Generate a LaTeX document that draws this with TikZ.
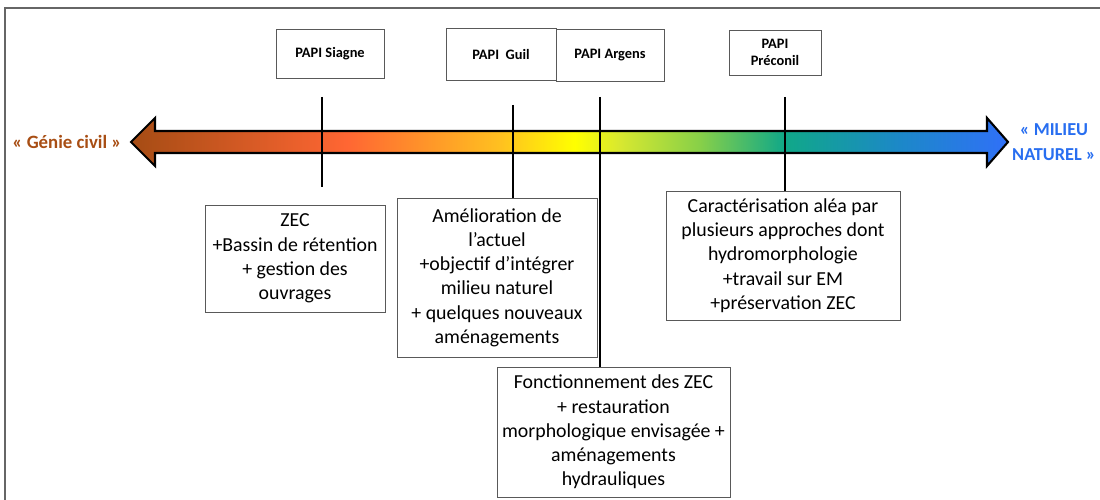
\documentclass[tikz,border=0pt]{standalone}
\usepackage{fontspec}
\setmainfont{Carlito}
\definecolor{civilbrown}{RGB}{168,78,20}
\definecolor{milieublue}{RGB}{40,110,240}
\definecolor{axbrown}{RGB}{165,76,20}
\definecolor{axorange}{RGB}{255,102,51}
\definecolor{axamber}{RGB}{255,192,32}
\definecolor{axyellow}{RGB}{255,255,0}
\definecolor{axlime}{RGB}{216,232,48}
\definecolor{axgreen}{RGB}{136,208,72}
\definecolor{axteal}{RGB}{16,168,136}
\definecolor{axsky}{RGB}{28,136,200}
\definecolor{axblue}{RGB}{48,112,248}
\pgfdeclarehorizontalshading{axisshade}{100bp}{color(0bp)=(axbrown); color(25bp)=(axbrown); color(37.3bp)=(axorange); color(46bp)=(axamber); color(50.3bp)=(axyellow); color(52.85bp)=(axlime); color(57.4bp)=(axgreen); color(62.25bp)=(axteal); color(68.8bp)=(axsky); color(75bp)=(axblue); color(100bp)=(axblue)}

\begin{document}
\begin{tikzpicture}[x=0.02cm,y=-0.02cm,
	papi/.style={draw=black!65, line width=0.5pt, fill=white, inner sep=0pt, align=center, font=\fontsize{8.2}{10}\selectfont\bfseries},
	note/.style={draw=black!65, line width=0.5pt, fill=white, inner sep=0pt, align=center, font=\fontsize{11.3}{13.8}\selectfont},
	papiline/.style={line width=1.7pt}]
	\useasboundingbox (0,0) rectangle (1100,500);
	\draw[black!60, line width=0.6pt] (5,500) -- (5,8) -- (1100,8);
	% axe genie civil -> milieu naturel
	\path[shade, shading=axisshade, draw=black, line width=1.2pt, line join=miter]
		(131,142) -- (155,118) -- (155,131) -- (987,131) -- (987,118) -- (1008,142)
		-- (987,166) -- (987,153) -- (155,153) -- (155,166) -- cycle;
	\node[font=\fontsize{10.7}{13}\selectfont\bfseries, text=civilbrown] (genie) at (67,142) {« Génie civil »};
	\node[font=\fontsize{10.4}{14}\selectfont\bfseries, text=milieublue, align=center, inner sep=0pt] (milieu) at (1054,142) {« MILIEU\\NATUREL »};
	% PAPI
	\node[papi, minimum width=2.16cm, minimum height=0.98cm] (siagne) at (330,53.5) {PAPI Siagne};
	\node[papi, minimum width=2.2cm, minimum height=1.04cm] (guil) at (501,54) {PAPI\ \ Guil};
	\node[papi, minimum width=2.16cm, minimum height=1.04cm] (argens) at (610,55) {PAPI Argens};
	\node[papi, minimum width=1.84cm, minimum height=0.9cm] (preconil) at (775,52.5) {PAPI\\Préconil};
	% actions
	\node[note, minimum width=3.6cm, minimum height=2.14cm] (zec) at (295,258.5) {ZEC\\+Bassin de rétention\\+ gestion des\\ouvrages};
	\node[note, minimum width=4cm, minimum height=3.18cm] (amelio) at (497,277.5) {Amélioration de\\l’actuel\\+objectif d’intégrer\\milieu naturel\\+ quelques nouveaux\\aménagements};
	\node[note, minimum width=4.68cm, minimum height=2.58cm] (carac) at (783,255.5) {Caractérisation aléa par\\plusieurs approches dont\\hydromorphologie\\+travail sur EM\\+préservation ZEC};
	\node[note, minimum width=4.66cm, minimum height=2.6cm] (fonct) at (613.5,432) {Fonctionnement des ZEC\\+ restauration\\morphologique envisagée +\\aménagements\\hydrauliques};
	% reperes
	\coordinate (siagne-a) at (322,97);
	\coordinate (siagne-b) at (322,187);
	\coordinate (guil-a) at (513,105);
	\coordinate (argens-a) at (600,97);
	\coordinate (preconil-a) at (785,97);
	\draw[papiline] (siagne-a) -- (siagne-b);
	\draw[papiline] (guil-a) -- (guil-a |- amelio.north);
	\draw[papiline] (argens-a) -- (argens-a |- fonct.north);
	\draw[papiline] (preconil-a) -- (preconil-a |- carac.north);
\end{tikzpicture}
\end{document}
